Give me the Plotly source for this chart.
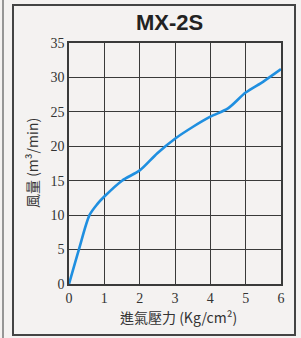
import plotly.graph_objects as go

pressure = [0, 0.28, 0.58, 0.8, 1.0, 1.5, 2.0, 2.5, 3.0, 3.5, 4.0, 4.5, 5.0, 5.5, 6.0]
airflow = [0, 5, 10, 11.6, 12.7, 15.0, 16.5, 19.0, 21.1, 22.8, 24.3, 25.5, 27.8, 29.4, 31.2]
x_ticks = [0, 1, 2, 3, 4, 5, 6]
y_ticks = [0, 5, 10, 15, 20, 25, 30, 35]

L, R, T, B = 69, 20, 43, 54
W, H = 301, 338
pw, ph = W - L - R, H - T - B

def px(x):
    return (x - L) / pw

def py(y):
    return (H - B - y) / ph

fig = go.Figure()
fig.add_trace(go.Scatter(x=pressure, y=airflow, mode="lines",
                         line=dict(color="#1f8fe0", width=2.6, shape="spline", smoothing=0.8),
                         hoverinfo="skip", showlegend=False))

axis_common = dict(showgrid=True, gridcolor="#3a3a3a", gridwidth=1.4, zeroline=False,
                   showline=True, linecolor="#3a3a3a", linewidth=1.6, mirror=True,
                   ticks="", tickfont=dict(family="Times New Roman", size=14, color="#333"))

fig.update_xaxes(range=[0, 6], tickvals=x_ticks, ticktext=[str(v) for v in x_ticks], **axis_common)
fig.update_yaxes(range=[0, 35], tickvals=y_ticks, ticktext=[str(v) for v in y_ticks], **axis_common)

shapes = [
    dict(type="rect", xref="paper", yref="paper", x0=px(13), x1=px(295), y0=py(335), y1=py(5),
         line=dict(color="#444", width=2), layer="below"),
    dict(type="line", xref="paper", yref="paper", x0=px(3), x1=px(3), y0=py(338), y1=py(0),
         line=dict(color="#777", width=1.5), layer="below"),
]

annotations = [
    dict(text="<b>MX-2S</b>", xref="paper", yref="paper", x=px(169), y=py(22), showarrow=False,
         font=dict(family="Liberation Sans", size=22, color="#222"), xanchor="center", yanchor="middle"),
    dict(text="進氣壓力 (Kg/cm²)", xref="paper", yref="paper", x=px(178), y=py(317), showarrow=False,
         font=dict(family="Noto Sans CJK TC", size=14, color="#333"), xanchor="center", yanchor="middle"),
    dict(text="風量 (m³/min)", xref="paper", yref="paper", x=px(32), y=py(163), showarrow=False,
         textangle=-90, font=dict(family="Noto Sans CJK TC", size=14, color="#333"),
         xanchor="center", yanchor="middle"),
]

fig.update_layout(width=W, height=H, margin=dict(l=L, r=R, t=T, b=B),
                  paper_bgcolor="#f4f2f1", plot_bgcolor="#f4f2f1",
                  shapes=shapes, annotations=annotations, showlegend=False)

fig.write_html("out.html", config={"displayModeBar": False},
               post_script="document.body.style.margin='0';document.body.style.overflow='hidden';")
